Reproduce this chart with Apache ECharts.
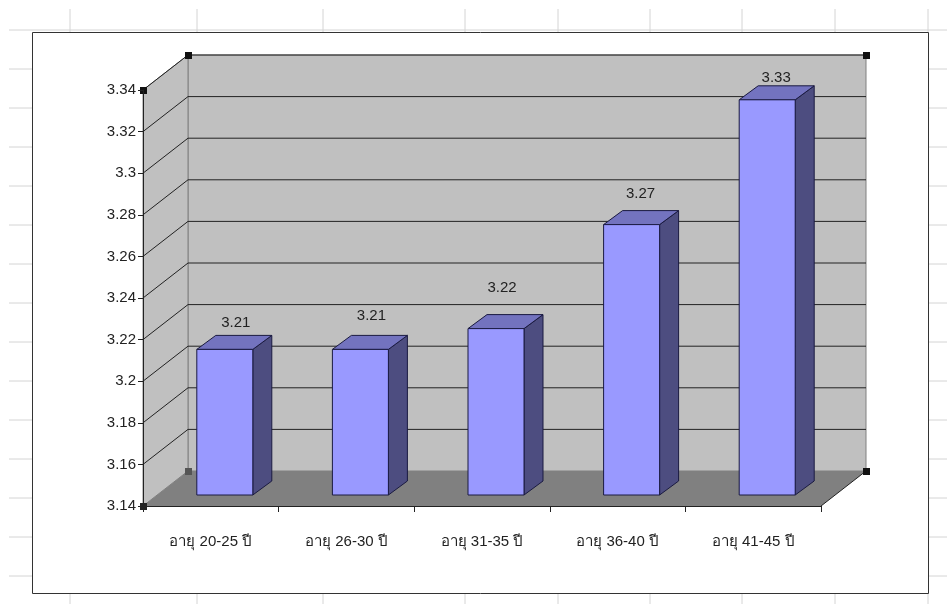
<!DOCTYPE html>
<html>
<head>
<meta charset="utf-8">
<style>html,body{margin:0;padding:0;background:#fff}</style>
<script src="https://cdn.jsdelivr.net/npm/echarts@6/dist/echarts.min.js"></script>
</head>
<body>
<div id="myChart" style="width:947px;height:613px"></div>
<script>
const categories = ['อายุ 20-25 ปี', 'อายุ 26-30 ปี', 'อายุ 31-35 ปี', 'อายุ 36-40 ปี', 'อายุ 41-45 ปี']
const scores = [3.21, 3.21, 3.22, 3.27, 3.33]
const gridTicks = [3.16, 3.18, 3.2, 3.22, 3.24, 3.26, 3.28, 3.3, 3.32, 3.34]

// hand placed data labels in the original, nudged from the bar centre
const labelNudge = [[11, -13], [11, -20], [6, -27], [9, -17], [9, -8]]
const sheetCols = [70, 197, 323, 465, 558, 650, 742, 835, 928]
const sheetRows = [30, 69, 108, 147, 186, 225, 264, 303, 342, 381, 420, 459, 498, 537, 576]

const FONT = 'Liberation Sans, Arial, Noto Sans, sans-serif'
const DEPTH_X = 45
const DEPTH_Y = -35
const BAR_W = 56
const BAR_X = 14 // bar front face sits part way into the floor
const BAR_Y = -11
const BAR_DX = 19
const BAR_DY = -14
const BASE = 3.14
const TOP = 3.34

function line(x1, y1, x2, y2, color, w) {
  return { type: 'line', shape: { x1, y1, x2, y2 }, style: { stroke: color, lineWidth: w || 1 }, silent: true }
}
function poly(points, fill, stroke) {
  return { type: 'polygon', shape: { points }, style: { fill, stroke: stroke || null, lineWidth: 1 } }
}
function handle(x, y, color) {
  return { type: 'rect', shape: { x: x - 3, y: y - 3, width: 7, height: 7 }, style: { fill: color } }
}

// sheet cells behind the chart object
const sheet = []
sheetCols.forEach(x => sheet.push({
  type: 'line', z: -10, shape: { x1: x, y1: 9, x2: x, y2: 604 }, style: { stroke: '#d4d4d4', lineWidth: 1 }
}))
sheetRows.forEach(y => sheet.push({
  type: 'line', z: -10, shape: { x1: 9, y1: y, x2: 947, y2: y }, style: { stroke: '#d4d4d4', lineWidth: 1 }
}))
sheet.push({
  type: 'rect', z: -9, shape: { x: 32.5, y: 32.5, width: 896, height: 561 },
  style: { fill: '#fff', stroke: '#333', lineWidth: 1 }
})

function renderWalls(params, api) {
  const a = api.coord([0, BASE])
  const t = api.coord([0, TOP])
  const x0 = params.coordSys.x
  const x1 = x0 + params.coordSys.width
  const yb = a[1]
  const yt = t[1]
  const children = [
    poly([[x0 + DEPTH_X, yb + DEPTH_Y], [x1 + DEPTH_X, yb + DEPTH_Y], [x1 + DEPTH_X, yt + DEPTH_Y], [x0 + DEPTH_X, yt + DEPTH_Y]], '#c0c0c0', '#808080'),
    poly([[x0, yb], [x0 + DEPTH_X, yb + DEPTH_Y], [x0 + DEPTH_X, yt + DEPTH_Y], [x0, yt]], '#c0c0c0', '#808080'),
    poly([[x0, yb], [x1, yb], [x1 + DEPTH_X, yb + DEPTH_Y], [x0 + DEPTH_X, yb + DEPTH_Y]], '#808080'),
    line(x1, yb, x1 + DEPTH_X, yb + DEPTH_Y, '#222')
  ]
  return { type: 'group', children }
}

function renderGridline(params, api) {
  const y = api.coord([0, api.value(0)])[1]
  const x0 = params.coordSys.x
  const x1 = x0 + params.coordSys.width
  return {
    type: 'polyline',
    shape: { points: [[x0, y], [x0 + DEPTH_X, y + DEPTH_Y], [x1 + DEPTH_X, y + DEPTH_Y]] },
    style: { fill: null, stroke: '#222', lineWidth: 1 }
  }
}

function renderBar(params, api) {
  const i = api.value(0)
  const c = api.coord([i, api.value(1)])
  const b = api.coord([i, BASE])
  const l = c[0] - BAR_W / 2 + BAR_X
  const r = l + BAR_W
  const t = c[1] + BAR_Y
  const y0 = b[1] + BAR_Y
  const edge = '#1a1a40'
  const nudge = labelNudge[i]
  return {
    type: 'group',
    children: [
      poly([[r, y0], [r + BAR_DX, y0 + BAR_DY], [r + BAR_DX, t + BAR_DY], [r, t]], '#4d4d80', edge),
      poly([[l, t], [r, t], [r + BAR_DX, t + BAR_DY], [l + BAR_DX, t + BAR_DY]], '#7373bf', edge),
      poly([[l, y0], [r, y0], [r, t], [l, t]], '#9999ff', edge),
      {
        type: 'text',
        style: {
          text: api.value(1).toFixed(2),
          x: (l + r) / 2 + nudge[0],
          y: t + BAR_DY + nudge[1],
          align: 'center',
          verticalAlign: 'middle',
          font: '15px ' + FONT,
          fill: '#222'
        }
      }
    ]
  }
}

function renderHandles(params, api) {
  const x0 = params.coordSys.x
  const x1 = x0 + params.coordSys.width
  const yb = api.coord([0, BASE])[1]
  const yt = api.coord([0, TOP])[1]
  return {
    type: 'group',
    children: [
      handle(x0 + DEPTH_X, yt + DEPTH_Y, '#111'),
      handle(x1 + DEPTH_X, yt + DEPTH_Y, '#111'),
      handle(x0, yt, '#111'),
      handle(x0 + DEPTH_X, yb + DEPTH_Y, '#555'),
      handle(x1 + DEPTH_X, yb + DEPTH_Y, '#111'),
      handle(x0, yb, '#222')
    ]
  }
}

const chart = echarts.init(document.getElementById('myChart'), null, { renderer: 'canvas' })
chart.setOption({
  backgroundColor: '#fff',
  animation: false,
  graphic: { elements: sheet },
  grid: { left: 143, right: 126, top: 90, bottom: 107, containLabel: false },
  xAxis: {
    type: 'category',
    data: categories,
    z: 5,
    axisLine: { lineStyle: { color: '#222', width: 1 } },
    axisTick: { show: true, length: 6, lineStyle: { color: '#222' } },
    axisLabel: { margin: 28, fontFamily: FONT, fontSize: 15, color: '#222', interval: 0 }
  },
  yAxis: {
    type: 'value',
    min: BASE,
    max: TOP,
    interval: 0.02,
    z: 5,
    axisLine: { show: true, lineStyle: { color: '#222', width: 1 } },
    axisTick: { show: true, length: 5, lineStyle: { color: '#222' } },
    splitLine: { show: false },
    axisLabel: {
      margin: 7,
      fontFamily: FONT,
      fontSize: 15,
      color: '#222',
      formatter: v => String(parseFloat(v.toFixed(2)))
    }
  },
  series: [
    { type: 'custom', z: 1, silent: true, clip: false, data: [[0]], renderItem: renderWalls },
    { type: 'custom', z: 2, silent: true, clip: false, data: gridTicks.map(v => [v]), encode: { y: 0 }, renderItem: renderGridline },
    { type: 'custom', z: 3, silent: true, clip: false, data: scores.map((v, i) => [i, v]), encode: { x: 0, y: 1 }, renderItem: renderBar },
    { type: 'custom', z: 4, silent: true, clip: false, data: [[0]], renderItem: renderHandles }
  ]
})
</script>
</body>
</html>
